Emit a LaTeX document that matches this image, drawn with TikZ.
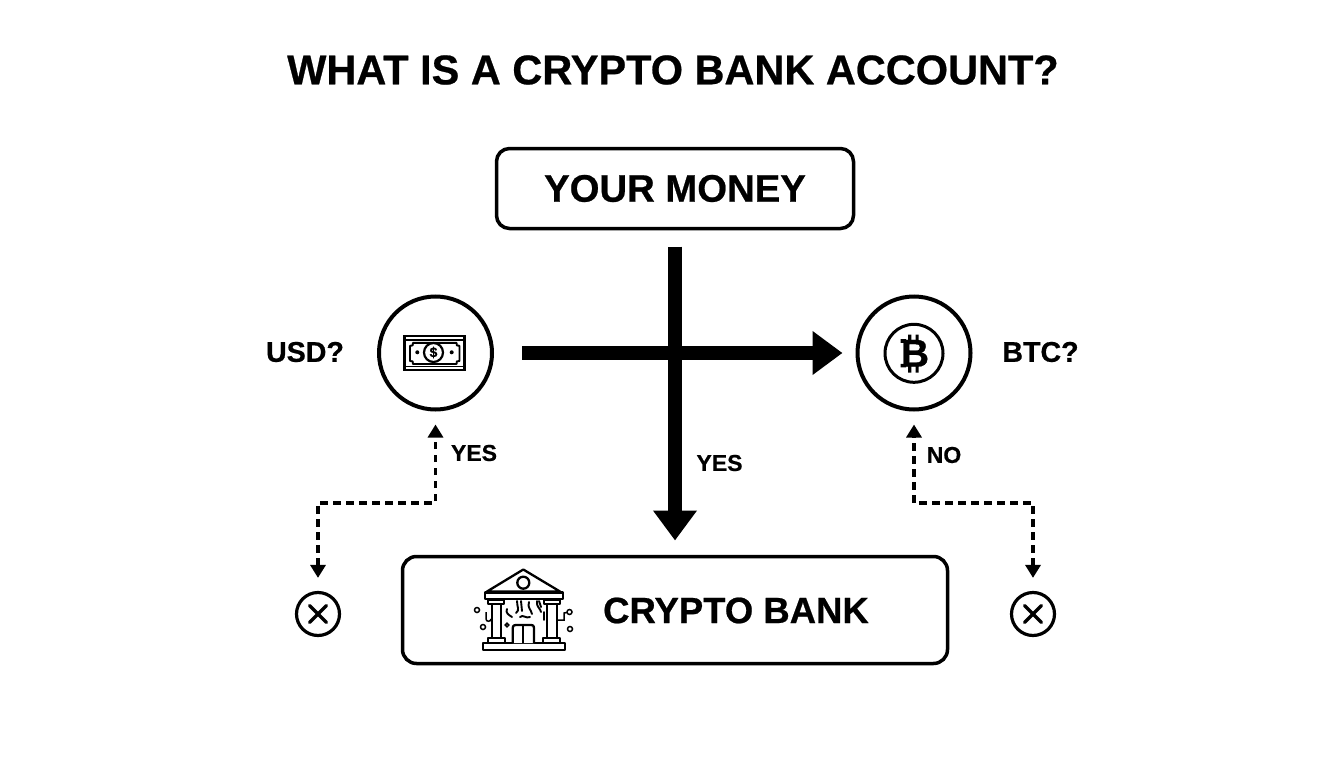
\documentclass[tikz,border=0pt]{standalone}
\usepackage{fontspec}
\setmainfont[BoldFeatures={FakeBold=0.6}]{Liberation Sans}
\usetikzlibrary{arrows.meta}
\tikzset{
  lbl/.style={font=\bfseries\fontsize{#1}{#1}\selectfont,inner sep=0pt,outer sep=0pt,text=black},
  bx/.style={draw=black,line width=3.5pt,rounded corners=13pt,inner sep=0pt,outer sep=0pt},
  ring/.style={draw=black,circle,line width=4pt,minimum size=113pt,inner sep=0pt,outer sep=2pt},
  xring/.style={draw=black,circle,line width=3.2pt,minimum size=43pt,inner sep=0pt,outer sep=1.6pt},
  bigarrow/.style={line width=14pt,draw=black,-{Triangle[length=30pt,width=42pt]}},
  dasharrow/.style={line width=3.3pt,draw=black,dash pattern=on 7.5pt off 5.5pt,{Triangle[length=13pt,width=15pt]}-{Triangle[length=13pt,width=15pt]}},
  ic/.style={draw=black,line width=2.3pt,line join=round,fill=white},
  icl/.style={draw=black,line width=1.9pt,line cap=round}
}
\begin{document}
\begin{tikzpicture}[x=1pt,y=-1pt]
\useasboundingbox[fill=white] (0,0) rectangle (1344,768);
\node[lbl=41.5] (title) at (673,70) {WHAT IS A CRYPTO BANK ACCOUNT?};
\node[bx,minimum width=357pt,minimum height=80pt,lbl=38.3] (money) at (675,188.5) {YOUR MONEY};
\node[bx,rounded corners=14pt,minimum width=545pt,minimum height=107pt] (bank) at (675,610) {};
\node[lbl=36.5,anchor=center] (banktxt) at (736,610.5) {CRYPTO BANK};
\node[ring] (usd) at (435.5,353) {};
\node[ring] (btc) at (914,353) {};
\node[lbl=28.6] (usdl) at (305,352) {USD?};
\node[lbl=28.6] (btcl) at (1040.5,352) {BTC?};
\node[xring] (xl) at (318,614) {};
\node[xring] (xr) at (1033,614) {};
\node[lbl=23] (y1) at (474,453) {YES};
\node[lbl=23] (y2) at (719.5,463) {YES};
\node[lbl=23] (n1) at (944,455) {NO};
\draw[bigarrow,shorten <=18pt,shorten >=16pt] (money.south) -- (bank.north);
\draw[bigarrow,shorten <=28pt,shorten >=13pt] (usd.east) -- (btc.west);
\coordinate (c1) at (318,503);
\coordinate (c2) at (435.5,503);
\coordinate (c3) at (914,503);
\coordinate (c4) at (1033,503);
\draw[dasharrow,shorten <=13pt,shorten >=13pt] (xl.north) -- (c1) -- (c2) -- (usd.south);
\draw[dasharrow,shorten <=13pt,shorten >=13pt] (xr.north) -- (c4) -- (c3) -- (btc.south);
% X marks
\foreach \c in {xl,xr}{
  \draw[line width=3.4pt,line cap=round] ([shift={(-8.5,-8.5)}]\c.center) -- ([shift={(8.5,8.5)}]\c.center);
  \draw[line width=3.4pt,line cap=round] ([shift={(-8.5,8.5)}]\c.center) -- ([shift={(8.5,-8.5)}]\c.center);
}
% banknote
\draw[line width=2.4pt] (404.3,336) rectangle (464.3,370);
\draw[line width=1.6pt] (404.3,339.8) -- (464.3,339.8) (404.3,366.6) -- (464.3,366.6);
\draw[line width=1.9pt,line join=round] (413,342.8) -- (456.5,342.8) .. controls (456.5,345.8) .. (459.5,345.8) -- (459.5,361) .. controls (456.5,361) .. (456.5,364) -- (413,364) .. controls (413,361) .. (410,361) -- (410,345.8) .. controls (413,345.8) .. (413,342.8) -- cycle;
\node[draw=black,circle,line width=2.2pt,fill=white,minimum size=19pt,inner sep=0pt,lbl=14] (dollar) at (433.5,352.5) {\$};
\fill (417.3,352.3) circle (2pt) (451.7,352.3) circle (2pt);
% bitcoin
\node[draw=black,circle,line width=3pt,minimum size=58pt,inner sep=0pt] (coin) at (914,353.3) {};
\fill (908.2,334.5) rectangle (911.4,340) (915.5,334.5) rectangle (918.7,340);
\fill (908.2,366) rectangle (911.4,372.7) (915.5,366) rectangle (918.7,372.7);
\fill (900.7,339.2) rectangle (906,342.8) (900.7,363.8) rectangle (906,367.4);
\node[lbl=39] (coinb) at (915,353.3) {B};
% bank icon
\draw[ic] (523.3,569.5) -- (560,591.5) -- (487,591.5) -- cycle;
\draw[ic] (523.3,582.7) circle (6pt);
\draw[ic] (485,592.5) rectangle (562.7,599.3);
\draw[ic] (488.3,600) rectangle (504,604.3);
\draw[ic] (491.7,604.3) rectangle (500.7,638.3);
\draw[ic] (488.3,638.3) rectangle (505,642.7);
\draw[ic] (544,600) rectangle (560,604.3);
\draw[ic] (547.3,604.3) rectangle (556.7,638.3);
\draw[ic] (543.3,638.3) rectangle (560,642.7);
\draw[ic] (482.7,643.3) rectangle (565,650);
\draw[ic] (512.7,643) -- (512.7,629) .. controls (512.7,625) and (514,625) .. (518,625) -- (529,625) .. controls (533,625) and (534,625) .. (534,629) -- (534,643);
\draw[ic] (523.3,625) -- (523.3,643);
\draw[icl] (507,609) .. controls (505,613) and (509,615) .. (512,617);
\draw[icl] (517,601) .. controls (517,607) and (520,610) .. (516,613);
\draw[icl] (521,601) -- (522,611);
\draw[icl] (529,602) .. controls (527,608) and (531,609) .. (532,614);
\draw[icl] (537,601) .. controls (536,607) and (541,609) .. (541,612);
\draw[icl] (539,601) -- (541,607);
\draw[icl] (520,617) .. controls (523,614) and (526,619) .. (530,617);
\draw[icl] (544,612) -- (544,620);
\draw[line width=1.5pt] (477,610) circle (2.5pt) (483,627) circle (2.5pt) (569.5,612) circle (2.5pt) (570,629) circle (2.5pt) (507,625) circle (1.8pt);
\draw[line width=1.5pt] (486,612) -- (486,619) .. controls (486,622) and (491,622) .. (491,619);
\draw[line width=1.5pt] (557,620) -- (564,620) -- (564,613) -- (567,612.5);
\end{tikzpicture}
\end{document}
